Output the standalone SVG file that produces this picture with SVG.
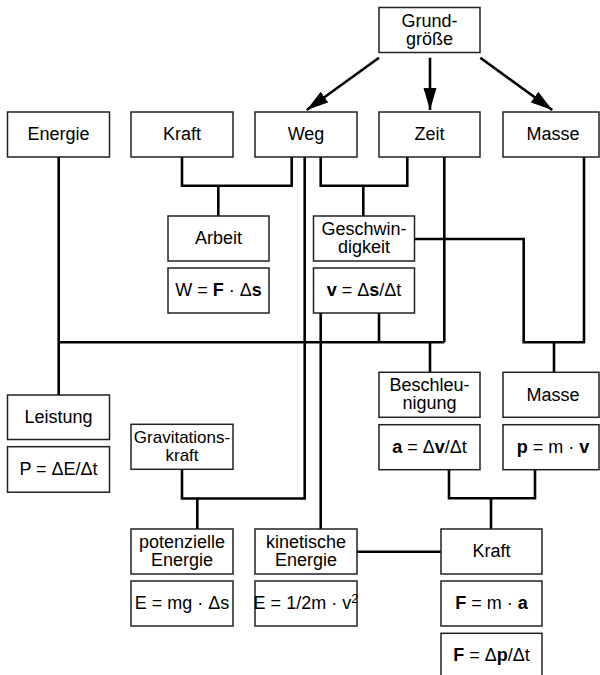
<svg xmlns="http://www.w3.org/2000/svg" width="600" height="675" viewBox="0 0 600 675">
<defs>
<marker id="ah" markerUnits="userSpaceOnUse" markerWidth="24" markerHeight="14" refX="22" refY="6.5" orient="auto">
<path d="M0,0 L22,6.5 L0,13 z" fill="#000"/>
</marker>
<style>
.b{fill:#fff;stroke:#222;stroke-width:1.5}
.t{font-family:"Liberation Sans",Arial,Helvetica,sans-serif;font-size:18px;fill:#000;text-anchor:middle}
.t2{font-size:17px}
.bd{font-weight:bold}
.c{fill:none;stroke:#000;stroke-width:2.6;stroke-linejoin:miter}
</style>
</defs>
<rect width="600" height="675" fill="#fff"/>
<g id="connectors">
<path class="c" d="M379,57.7 L306.7,110" marker-end="url(#ah)"/>
<path class="c" d="M430,57.7 L430,110" marker-end="url(#ah)"/>
<path class="c" d="M480.3,57.7 L552.3,110" marker-end="url(#ah)"/>
<path class="c" d="M58.7,157 V395"/>
<path class="c" d="M58.7,342.3 H444.3"/>
<path class="c" d="M182,157 V185.7 H291.7 V157"/>
<path class="c" d="M218.3,185.7 V216"/>
<path class="c" d="M304.7,157 V498.5 H182 V469.3"/>
<path class="c" d="M197.3,498.5 V529"/>
<path class="c" d="M320.7,157 V185.7 H407.3 V157"/>
<path class="c" d="M363.3,185.7 V216"/>
<path class="c" d="M444.3,157 V342.3"/>
<path class="c" d="M414.5,239 H523.7 V342.3 H584 V157"/>
<path class="c" d="M554,342.3 V372.3"/>
<path class="c" d="M430,342.3 V372.3"/>
<path class="c" d="M320.7,313 V529"/>
<path class="c" d="M379,313 V342.3"/>
<path class="c" d="M449,469.7 V498.3 H535 V469.7"/>
<path class="c" d="M491,498.3 V529"/>
<path class="c" d="M357,551.7 H441"/>
</g>
<g id="grundgroesse"><rect class="b" x="379" y="7.5" width="101" height="45"/><text class="t"><tspan x="429.5" y="26.5">Grund-</tspan><tspan x="429.5" y="44.5">größe</tspan></text></g>
<g id="energie"><rect class="b" x="7.5" y="112" width="102" height="45"/><text class="t" x="58.5" y="140">Energie</text></g>
<g id="kraft"><rect class="b" x="131" y="112" width="102" height="45"/><text class="t" x="182" y="140">Kraft</text></g>
<g id="weg"><rect class="b" x="255" y="112" width="102" height="45"/><text class="t" x="306" y="140">Weg</text></g>
<g id="zeit"><rect class="b" x="379" y="112" width="101" height="45"/><text class="t" x="429.5" y="140">Zeit</text></g>
<g id="masse"><rect class="b" x="503" y="112" width="96" height="45"/><text class="t" x="553" y="140">Masse</text></g>
<g id="arbeit"><rect class="b" x="168" y="216" width="101" height="45"/><text class="t" x="218.5" y="244">Arbeit</text></g>
<g id="arbeit-formel"><rect class="b" x="168" y="268" width="101" height="45"/><text class="t" x="218.5" y="296">W = <tspan class="bd">F</tspan> · Δ<tspan class="bd">s</tspan></text></g>
<g id="geschwindigkeit"><rect class="b" x="313.5" y="216" width="101" height="45"/><text class="t"><tspan x="364" y="235">Geschwin-</tspan><tspan x="364" y="253">digkeit</tspan></text></g>
<g id="geschwindigkeit-formel"><rect class="b" x="313.5" y="268" width="101" height="45"/><text class="t" x="364" y="296"><tspan class="bd">v</tspan> = Δ<tspan class="bd">s</tspan>/Δt</text></g>
<g id="leistung"><rect class="b" x="7.5" y="395" width="102" height="44.5"/><text class="t" x="58.5" y="423">Leistung</text></g>
<g id="leistung-formel"><rect class="b" x="7.5" y="446.7" width="102" height="45.5"/><text class="t" x="58.5" y="475">P = ΔE/Δt</text></g>
<g id="beschleunigung"><rect class="b" x="379" y="372.3" width="101" height="45"/><text class="t"><tspan x="429.5" y="391">Beschleu-</tspan><tspan x="429.5" y="409">nigung</tspan></text></g>
<g id="beschleunigung-formel"><rect class="b" x="379" y="424.7" width="101" height="45"/><text class="t" x="429.5" y="452.5"><tspan class="bd">a</tspan> = Δ<tspan class="bd">v</tspan>/Δt</text></g>
<g id="masse2"><rect class="b" x="503" y="372.3" width="96" height="45"/><text class="t" x="553" y="400.5">Masse</text></g>
<g id="impuls-formel"><rect class="b" x="503" y="424.7" width="96" height="45"/><text class="t" x="553" y="452.5"><tspan class="bd">p</tspan> = m · <tspan class="bd">v</tspan></text></g>
<g id="gravitationskraft"><rect class="b" x="131" y="424.3" width="102" height="45"/><text class="t t2"><tspan x="182" y="443">Gravitations-</tspan><tspan x="182" y="461">kraft</tspan></text></g>
<g id="potenzielle-energie"><rect class="b" x="131" y="529" width="102" height="45"/><text class="t"><tspan x="182" y="548">potenzielle</tspan><tspan x="182" y="566">Energie</tspan></text></g>
<g id="potenzielle-formel"><rect class="b" x="131" y="581" width="102" height="45"/><text class="t" x="182" y="609">E = mg · Δs</text></g>
<g id="kinetische-energie"><rect class="b" x="255" y="529" width="102" height="45"/><text class="t"><tspan x="306" y="548">kinetische</tspan><tspan x="306" y="566">Energie</tspan></text></g>
<g id="kinetische-formel"><rect class="b" x="255" y="581" width="102" height="45"/><text class="t" x="306" y="609">E = 1/2m · v<tspan font-size="13" dy="-6">2</tspan></text></g>
<g id="kraft2"><rect class="b" x="441" y="529" width="101" height="45"/><text class="t" x="491.5" y="557">Kraft</text></g>
<g id="kraft-formel1"><rect class="b" x="441" y="581" width="101" height="45"/><text class="t" x="491.5" y="609"><tspan class="bd">F</tspan> = m · <tspan class="bd">a</tspan></text></g>
<g id="kraft-formel2"><rect class="b" x="441" y="633.3" width="101" height="45"/><text class="t" x="491.5" y="661"><tspan class="bd">F</tspan> = Δ<tspan class="bd">p</tspan>/Δt</text></g>
</svg>
